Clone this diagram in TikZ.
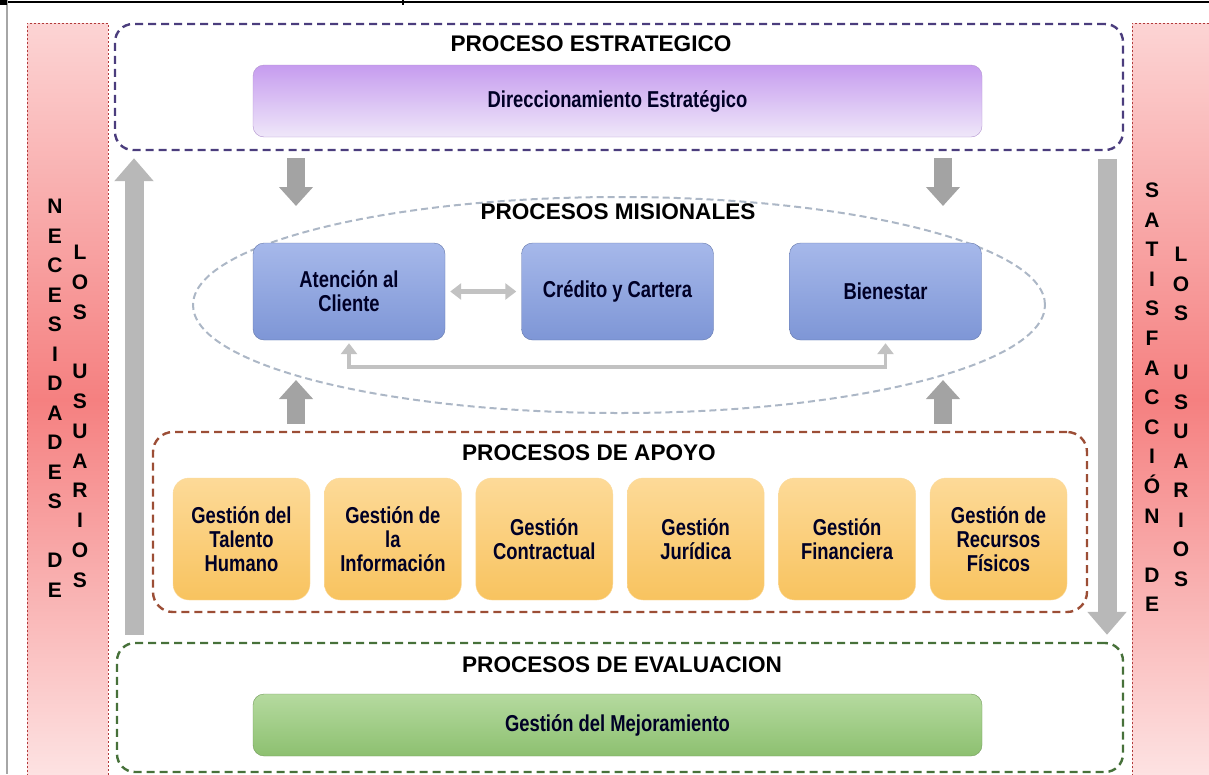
\documentclass[tikz,border=0pt]{standalone}
\usepackage{fontspec}
\setmainfont{Liberation Sans}
\newfontfamily\narrowfont[FakeStretch=0.8]{Liberation Sans}
\usepackage{tikz}
\usetikzlibrary{calc,shapes.geometric,arrows.meta}

\definecolor{bandtop}{HTML}{FCD4D4}
\definecolor{bandmid}{HTML}{F58080}
\definecolor{bandbot}{HTML}{FDE2E2}
\definecolor{bandline}{HTML}{B23A3A}
\definecolor{estrline}{HTML}{4B3D7D}
\definecolor{misline}{HTML}{ACB7C6}
\definecolor{apoyoline}{HTML}{9C4E36}
\definecolor{evalline}{HTML}{47713A}
\definecolor{morado1}{HTML}{C69CEF}
\definecolor{morado2}{HTML}{EFE7F9}
\definecolor{azul1}{HTML}{A6B8EA}
\definecolor{azul2}{HTML}{7E96D6}
\definecolor{naranja1}{HTML}{FDDA98}
\definecolor{naranja2}{HTML}{F8C35F}
\definecolor{verde1}{HTML}{B5DA9F}
\definecolor{verde2}{HTML}{8DC070}
\definecolor{flecha}{HTML}{A3A3A3}
\definecolor{flechalarga}{HTML}{B8B8B8}
\definecolor{grisenlace}{HTML}{C2C2C2}

\begin{document}
\begin{tikzpicture}[x=1pt,y=-1pt,
  titulo/.style={font=\fontsize{22.6}{27}\selectfont\bfseries, inner sep=0pt},
  caja/.style={rounded corners=11pt, align=center, inner sep=2pt, text=black!85!blue, font=\narrowfont\fontsize{23}{24}\selectfont\bfseries},
  marco/.style={draw, rounded corners=18pt, line width=2.4pt, dash pattern=on 8pt off 5pt},
  letra/.style={font=\fontsize{21}{22}\selectfont\bfseries, text height=15pt, text depth=0pt, inner sep=0pt},
  bloque/.style={-{Triangle[length=19pt,width=33pt]}, line width=18pt, color=flecha},
  larga/.style={-{Triangle[length=23pt,width=38pt]}, line width=19pt, color=flechalarga},
  enlace/.style={line width=3.5pt, color=grisenlace},
  doble/.style={{Triangle[length=11pt,width=16pt]}-{Triangle[length=11pt,width=16pt]}}]
\useasboundingbox (0,0) rectangle (1209,774);
\clip (0,0) rectangle (1209,774);

%pink bands at both sides
\shade[top color=bandtop, bottom color=bandmid] (27,23) rectangle (108,400);
\shade[top color=bandmid, bottom color=bandbot] (27,400) rectangle (108,774);
\draw[bandline, line width=0.8pt, dash pattern=on 2pt off 2pt] (27,780) -- (27,23) -- (108,23) -- (108,780);
\shade[top color=bandtop, bottom color=bandmid] (1132,23) rectangle (1215,400);
\shade[top color=bandmid, bottom color=bandbot] (1132,400) rectangle (1215,774);
\draw[bandline, line width=0.8pt, dash pattern=on 2pt off 2pt] (1132,780) -- (1132,23) -- (1215,23);

%band letters
\foreach \l [count=\i from 0] in {N,E,C,E,S,I,D,A,D,E,S}
  \node[letra] (nec\i) at (55,{206+29.5*\i}) {\l};
\foreach \l [count=\i from 12] in {D,E}
  \node[letra] (nec\i) at (55,{206+29.5*\i}) {\l};
\foreach \l [count=\i from 0] in {L,O,S}
  \node[letra] (losi\i) at (80,{252+29.8*\i}) {\l};
\foreach \l [count=\i from 4] in {U,S,U,A,R,I,O,S}
  \node[letra] (losi\i) at (80,{252+29.8*\i}) {\l};
\foreach \l [count=\i from 0] in {S,A,T,I,S,F,A,C,C,I,Ó,N}
  \node[letra] (sat\i) at (1152,{190+29.6*\i}) {\l};
\foreach \l [count=\i from 13] in {D,E}
  \node[letra] (sat\i) at (1152,{190+29.6*\i}) {\l};
\foreach \l [count=\i from 0] in {L,O,S}
  \node[letra] (losd\i) at (1181,{254+29.5*\i}) {\l};
\foreach \l [count=\i from 4] in {U,S,U,A,R,I,O,S}
  \node[letra] (losd\i) at (1181,{254+29.5*\i}) {\l};

%dashed frames
\node[marco, draw=estrline, minimum width=1008pt, minimum height=126pt] (estrategico) at (619,87) {};
\node[draw=misline, ellipse, line width=2pt, dash pattern=on 7pt off 4pt, minimum width=852pt, minimum height=216pt, inner sep=0pt] (misional) at (619,305) {};
\node[marco, draw=apoyoline, rounded corners=20pt, minimum width=934pt, minimum height=180pt] (apoyo) at (620,522) {};
\node[marco, draw=evalline, minimum width=1006pt, minimum height=129pt] (evaluacion) at (620,707.5) {};

%titles
\node[titulo] (testr) at (591,44) {PROCESO ESTRATEGICO};
\node[titulo] (tmis) at (618,212) {PROCESOS MISIONALES};
\node[titulo] (tapoyo) at (589,453) {PROCESOS DE APOYO};
\node[titulo] (teval) at (622,665) {PROCESOS DE EVALUACION};

%process boxes
\node[caja, minimum width=729pt, minimum height=72pt, top color=morado1, bottom color=morado2, draw=morado1!70!gray] (direc) at (617.5,101) {Direccionamiento\ Estratégico};
\begin{scope}[every node/.style={caja, minimum width=192pt, minimum height=97pt, top color=azul1, bottom color=azul2, draw=azul2!80!black}]
\node (aten) at (349,291.5) {Atención al\\Cliente};
\node (cred) at (617.5,291.5) {Crédito y Cartera};
\node (bien) at (885.5,291.5) {Bienestar};
\end{scope}
\begin{scope}[every node/.style={caja, rounded corners=16pt, minimum width=137pt, minimum height=122pt, top color=naranja1, bottom color=naranja2, draw=naranja2!60}]
\node (talento) at (241.5,539) {Gestión del\\Talento\\Humano};
\node[anchor=west] (informacion) at ($(talento.east)+(14,0)$) {Gestión de\\la\\Información};
\node[anchor=west] (contractual) at ($(informacion.east)+(14,0)$) {Gestión\\Contractual};
\node[anchor=west] (juridica) at ($(contractual.east)+(14,0)$) {Gestión\\Jurídica};
\node[anchor=west] (financiera) at ($(juridica.east)+(14,0)$) {Gestión\\Financiera};
\node[anchor=west] (fisicos) at ($(financiera.east)+(14,0)$) {Gestión de\\Recursos\\Físicos};
\end{scope}
\node[caja, minimum width=729pt, minimum height=62pt, top color=verde1, bottom color=verde2, draw=verde2!80!black] (mejora) at (617.5,725) {Gestión del Mejoramiento};

%block arrows between levels
\coordinate (bajaizq) at (296,206);
\coordinate (bajader) at (943,206);
\coordinate (subeizq) at (296,380);
\coordinate (subeder) at (943,380);
\draw[bloque] (estrategico.south -| bajaizq) ++(0,7) -- (bajaizq);
\draw[bloque] (estrategico.south -| bajader) ++(0,7) -- (bajader);
\draw[bloque] (apoyo.north -| subeizq) ++(0,-7) -- (subeizq);
\draw[bloque] (apoyo.north -| subeder) ++(0,-7) -- (subeder);

%long arrows at the sides
\coordinate (ejeizq) at (134,0);
\coordinate (ejeder) at (1107,0);
\draw[larga] (evaluacion.north -| ejeizq) ++(0,-7) -- ($(estrategico.south -| ejeizq)+(0,7)$);
\draw[larga] (estrategico.south -| ejeder) ++(0,8) -- ($(evaluacion.north -| ejeder)+(0,-7)$);

%links inside the mission processes
\coordinate (retorno) at (0,367);
\draw[enlace, doble, line width=4.5pt] ($(aten.east)+(5,0)$) -- ($(cred.west)+(-5,0)$);
\draw[enlace, doble] ($(bien.south)+(0,3)$) -- (bien.south |- retorno) -- (aten.south |- retorno) -- ($(aten.south)+(0,3)$);

%page frame
\draw[line width=2pt] (0,1.5) -- (1209,1.5);
\draw[gray!70, line width=2pt] (7,0) -- (7,774);
\fill (0,0) rectangle (7,5);
\draw[line width=1.2pt] (403,0) -- (403,5);
\end{tikzpicture}
\end{document}
